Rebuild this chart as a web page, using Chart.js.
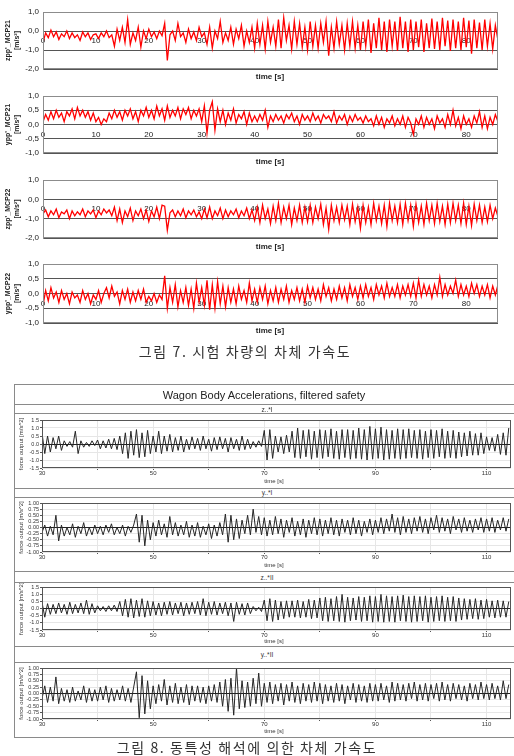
<!DOCTYPE html>
<html><head><meta charset="utf-8">
<script src="https://cdn.jsdelivr.net/npm/chart.js@4/dist/chart.umd.min.js"></script>
<style>
body{margin:0;background:#fff;width:514px;height:756px;position:relative;overflow:hidden;font-family:Arial,"Liberation Sans",sans-serif}
canvas{position:absolute}
.t{position:absolute;white-space:nowrap;transform:translate(-50%,-50%);color:#222}
.ln{position:absolute;background:#8a8a8a}
.cap{font-family:"Noto Sans CJK KR",sans-serif;font-size:14px;color:#333;letter-spacing:1.6px}
</style></head><body>
<script>
// ---------- data ----------
const topTimeStep = 0.5;   // s, top 4 panels start at 0 s
const botTimeStep = 0.5;   // s, bottom 4 panels start at 30 s
const botTimeStart = 30;

const zppMCP21 = [-0.6,-0.1,-0.35,0.05,-0.3,-0.05,-0.45,-0.15,-0.3,0.0,-0.4,-0.1,-0.35,-0.2,-0.5,-0.05,-0.3,-0.1,-0.45,-0.2,-0.15,-0.4,-0.1,-0.3,0.0,-0.35,-0.2,
 -0.8,0.1,-0.5,0.2,-0.6,0.6,-0.7,-0.1,-0.5,0.2,-0.85,0.0,-0.4,0.1,
 -0.3,-0.05,-0.4,0.0,-0.25,0.4,-1.55,
 -0.2,0.0,-0.5,0.4,-0.3,-0.1,-0.6,0.1,-0.4,-0.05,-0.5,0.2,-0.3,
 -0.1,-0.7,0.2,-0.9,0.0,-0.4,0.5,-0.6,-0.1,-0.5,0.2,-0.7,0.1,-0.4,0.3,-0.8,0.0,-0.6,0.2,
 -0.9,0.4,-0.7,0.3,-0.95,0.5,-0.6,0.2,-0.8,0.6,-0.9,0.7,-0.5,0.3,-0.95,0.5,-0.7,0.4,-0.85,0.2,
 -1.0,0.5,-0.8,0.3,-0.9,0.4,-0.6,0.5,-1.3,0.2,-0.9,0.5,-0.7,0.3,-1.0,0.4,-0.8,0.5,-0.9,0.3,
 -1.0,0.5,-0.8,0.6,-1.15,0.4,-0.9,0.7,-1.0,0.5,-1.1,0.6,-0.8,0.5,-1.05,0.75,-0.9,0.5,-1.1,0.6,
 -1.0,0.5,-0.85,0.6,-1.1,0.4,-0.9,0.65,-0.95,0.5,-1.0,0.7,-0.8,0.55,-1.05,0.6,-0.9,0.5,-1.0,0.7,
 -0.85,0.55,-1.2,0.6,-0.9,0.45,-1.0,0.6,-0.8,0.4,-0.95,0.3,-0.5];

const yppMCP21 = [0.1,0.35,0.15,0.45,0.2,0.5,0.25,0.4,0.1,0.45,0.3,0.55,0.2,0.6,0.3,0.5,0.25,0.45,0.15,0.4,
 0.1,0.25,0.0,0.2,
 0.1,0.4,0.2,0.5,0.25,0.45,0.15,0.5,0.3,0.55,0.2,0.45,0.1,0.5,0.3,0.6,0.25,0.5,0.2,0.65,0.3,0.55,0.15,0.65,0.25,0.5,0.3,0.6,0.2,0.55,0.35,0.6,0.2,0.5,0.3,0.55,
 0.1,0.65,-0.3,0.5,0.8,-0.2,
 0.55,0.1,0.5,0.0,0.4,0.15,0.55,0.05,0.35,0.2,0.45,0.0,0.4,0.1,
 0.3,0.1,0.35,0.15,0.5,-0.1,0.3,0.1,0.35,0.15,0.3,0.05,0.35,0.2,0.4,0.1,0.3,0.0,0.35,0.15,0.3,0.1,0.4,0.15,0.3,0.05,0.35,0.2,0.3,0.1,0.45,0.05,0.3,0.15,0.35,0.0,0.3,0.1,0.35,0.15,
 0.25,0.05,0.3,0.1,0.2,-0.05,0.3,0.0,0.25,-0.1,0.2,0.05,0.3,-0.05,0.2,0.0,0.3,-0.1,0.25,0.05,
 -0.35,0.2,0.0,0.3,-0.1,0.25,0.0,0.2,-0.15,0.3,0.05,0.2,-0.1,0.35,0.0,0.5,-0.05,0.25,-0.15,0.3,0.0,0.2,-0.1,0.3,0.05,0.45,-0.1,0.3,-0.15,0.25,0.0,0.35,0.1];

const zppMCP22 = [-0.75,-0.55,-0.9,-0.6,-0.8,-0.5,-0.95,-0.65,-0.75,-0.55,-1.0,-0.6,-0.85,-0.65,-0.8,-0.5,-0.9,-0.6,-0.75,-0.55,-0.95,-0.6,-0.8,-0.5,-0.7,-0.55,-0.85,
 -0.4,-1.1,-0.5,-1.2,-0.6,-0.9,-0.45,-1.1,-0.6,-0.85,-0.5,-1.0,-0.55,-1.15,-0.6,-0.9,-0.4,-1.0,-0.3,
 -0.35,-1.6,
 -0.7,-0.55,-0.9,-0.6,-0.85,-0.5,-0.95,-0.6,-0.8,-0.55,-0.9,-0.65,-1.0,
 -0.5,-0.95,-0.4,-1.0,-0.6,-0.85,-0.45,-1.0,-0.55,-0.9,-0.6,-0.8,-0.5,-0.95,-0.6,-0.85,-0.45,-1.0,-0.55,
 -1.1,-0.4,-1.2,-0.3,-1.0,-0.5,-1.25,-0.35,-1.1,-0.2,-1.2,-0.4,-1.0,-0.3,-1.3,-0.45,-1.1,-0.3,-1.2,-0.4,
 -1.15,-0.3,-1.2,-0.4,-1.0,-0.25,-1.3,-0.45,-1.55,-0.3,-1.1,-0.4,-1.2,-0.3,-1.05,-0.35,-1.3,-0.25,-1.15,-0.4,
 -1.5,-0.3,-1.2,-0.4,-1.3,-0.2,-1.1,-0.35,-1.25,-0.3,-1.4,-0.2,-1.1,-0.35,-1.2,-0.25,-1.3,-0.2,-1.1,-0.3,
 -1.4,-0.25,-1.2,-0.35,-1.3,-0.2,-1.1,-0.3,-1.25,-0.2,-1.15,-0.35,-1.3,-0.25,-1.2,-0.2,-1.1,-0.3,-1.25,-0.2,-1.3,-0.35,-1.35,-0.25,-1.1,-0.3,-1.2,-0.4,-1.15,-0.3,-1.0,-0.45,-0.9];

const yppMCP22 = [-0.4,0.1,-0.25,0.2,-0.15,0.05,-0.3,0.1,-0.2,0.0,-0.35,0.05,-0.15,-0.05,-0.3,0.1,-0.2,0.0,-0.35,-0.05,-0.2,0.1,-0.3,0.0,0.2,-0.15,0.25,-0.1,0.05,-0.35,0.1,-0.2,0.15,-0.3,0.05,-0.25,0.1,-0.2,0.15,-0.3,
 -0.1,-0.25,0.0,-0.3,-0.05,-0.2,
 0.6,-0.5,
 0.2,-0.3,0.3,-0.45,0.1,-0.3,0.2,-0.4,0.15,-0.5,0.35,-0.3,0.2,-0.4,0.45,-0.55,0.3,-0.5,0.4,-0.35,0.25,-0.45,
 0.2,-0.3,0.15,-0.35,0.25,-0.2,0.1,-0.3,0.35,-0.25,0.15,-0.3,0.2,-0.2,0.25,-0.35,0.1,-0.25,0.2,-0.3,0.15,-0.2,0.25,-0.3,0.1,-0.2,0.2,-0.25,0.15,-0.3,0.25,-0.15,0.2,-0.2,0.15,-0.25,0.3,-0.1,0.2,-0.25,0.15,-0.2,0.25,-0.15,0.2,-0.25,0.3,-0.1,0.2,-0.2,
 0.25,-0.15,0.3,-0.1,0.2,-0.2,0.3,-0.05,0.25,-0.15,0.35,-0.1,0.2,-0.1,0.3,-0.15,0.25,-0.05,0.3,-0.1,0.35,-0.15,0.45,-0.1,0.3,-0.05,0.25,-0.15,0.3,-0.05,0.55,-0.1,0.3,-0.05,0.25,0.0,0.45,-0.1,0.3,-0.05,0.25,-0.1,0.35,0.0,0.3,-0.1,0.25,-0.05,0.3,-0.15,0.25,-0.05,0.3];

const zI = [0.7,-0.6,0.5,-0.5,0.4,-0.3,0.5,-0.4,
 0.2,-0.15,0.15,-0.2,0.8,-0.6,0.2,-0.2,0.1,-0.15,0.2,-0.1,
 0.25,-0.3,0.2,-0.25,0.3,-0.3,0.35,-0.35,
 0.5,-0.6,0.7,-0.9,0.8,-0.7,0.9,-0.85,0.7,-0.8,0.85,-0.6,
 0.5,-0.5,0.8,-0.6,0.5,-0.45,0.6,-0.5,0.4,-0.4,0.5,-0.5,
 0.3,-0.35,0.45,-0.3,0.35,-0.4,0.5,-0.3,0.3,-0.45,0.4,-0.35,0.45,-0.3,0.35,-0.5,0.4,-0.3,0.3,-0.4,0.5,-0.35,0.3,-0.3,
 0.15,-0.2,0.2,-0.15,
 0.85,-1.0,0.9,-0.9,
 0.5,-0.5,0.45,-0.6,0.55,-0.5,
 0.8,-0.85,1.0,-0.9,0.85,-0.8,0.9,-0.95,0.8,-0.85,0.9,-0.9,0.85,-0.8,0.95,-0.9,0.8,-0.95,0.9,-0.85,
 0.9,-0.95,0.85,-0.9,1.0,-0.95,0.9,-1.0,1.1,-0.95,0.95,-0.9,1.05,-1.0,0.9,-0.95,0.85,-0.9,0.95,-0.95,
 0.9,-0.9,0.95,-0.85,0.85,-0.9,0.9,-0.95,0.8,-0.85,0.9,-0.9,0.85,-0.8,0.95,-0.9,0.8,-0.85,0.85,-0.9,
 0.75,-0.8,0.7,-0.75,0.8,-0.7,0.65,-0.7,0.7,-0.6,0.45,-0.4,0.4,-0.45,0.6,-0.65,0.7,-0.7,1.0];

const yI = [-0.2,0.1,-0.35,0.05,-0.3,0.5,-0.55,0.1,-0.35,0.0,-0.3,0.15,-0.4,0.05,-0.25,0.2,-0.35,0.0,-0.3,0.1,
 -0.25,0.05,-0.3,0.1,-0.2,0.15,-0.3,0.0,-0.25,0.1,-0.35,0.05,-0.2,0.1,
 0.55,-0.6,0.5,-0.75,0.3,-0.5,
 0.2,-0.35,0.3,-0.3,0.15,-0.4,0.45,-0.3,0.2,-0.35,0.1,-0.3,0.25,-0.4,
 0.1,-0.35,0.2,-0.4,0.05,-0.3,0.15,-0.45,0.1,-0.35,0.2,-0.3,
 0.55,-0.6,0.5,-0.5,0.35,-0.45,
 0.3,-0.25,0.5,-0.3,0.75,-0.2,0.45,-0.3,
 0.4,-0.35,0.3,-0.3,0.45,-0.25,0.35,-0.4,0.3,-0.2,0.4,-0.35,0.25,-0.3,0.35,-0.4,0.3,-0.25,0.4,-0.3,0.35,-0.35,0.3,-0.25,0.4,-0.3,0.3,-0.35,0.35,-0.2,0.3,-0.3,0.4,-0.25,0.3,-0.35,0.25,-0.2,0.35,-0.3,
 0.3,-0.2,0.4,-0.25,0.35,-0.15,0.55,-0.2,0.4,-0.3,0.45,-0.2,0.35,-0.25,0.4,-0.15,0.45,-0.2,0.35,-0.25,0.4,-0.1,0.5,-0.2,0.4,-0.15,0.35,-0.25,0.45,-0.1,0.35,-0.2,0.4,-0.15,0.3,-0.2,0.35,-0.1,0.4,-0.2,0.35,-0.15,0.4,-0.2,0.3,-0.1,0.4,-0.15,0.35];

const zII = [0.45,-0.6,0.35,-0.4,0.3,-0.35,0.4,-0.3,0.3,-0.4,0.45,-0.35,0.3,-0.3,0.4,-0.35,0.6,-0.4,0.35,-0.3,
 0.2,-0.15,0.15,-0.2,0.2,-0.15,0.25,-0.2,
 0.5,-0.5,0.65,-0.6,0.7,-0.65,0.6,-0.55,0.7,-0.6,0.55,-0.5,
 0.5,-0.45,0.4,-0.5,0.45,-0.4,0.5,-0.45,0.4,-0.35,0.45,-0.5,0.4,-0.4,0.45,-0.35,
 0.5,-0.45,0.7,-0.5,0.45,-0.4,0.5,-0.45,
 0.4,-0.35,0.45,-0.5,0.4,-0.9,0.45,-0.4,0.35,-0.45,0.4,-0.35,
 0.15,-0.15,0.1,-0.2,
 0.6,-0.85,0.7,-0.9,0.6,-0.8,0.5,-0.7,0.55,-0.6,
 0.55,-0.6,0.6,-0.65,0.5,-0.6,0.65,-0.7,0.6,-0.65,
 0.75,-0.85,0.8,-0.9,0.7,-0.85,0.85,-0.9,1.0,-0.95,0.8,-0.85,0.75,-0.8,0.85,-0.9,0.8,-0.85,0.9,-0.95,
 0.85,-0.9,1.0,-0.95,0.9,-0.9,0.85,-0.95,0.9,-0.85,0.95,-0.9,0.85,-0.95,0.9,-0.9,0.85,-0.85,0.9,-0.95,0.8,-0.9,0.85,-0.85,0.9,-0.9,0.8,-0.85,0.85,-0.9,
 0.75,-0.8,0.7,-0.75,0.65,-0.7,0.7,-0.75,0.6,-0.7,0.65,-0.6,0.55,-0.65,0.6,-0.6,0.55,-0.6,0.5];

const yII = [-0.2,0.3,-0.35,0.25,-0.3,0.65,-0.4,0.2,-0.3,0.15,-0.35,0.25,-0.3,0.1,-0.25,0.3,-0.35,0.2,-0.3,0.15,
 -0.3,0.25,-0.25,0.3,-0.35,0.2,-0.3,0.15,-0.25,0.3,-0.3,0.2,-0.35,0.25,
 0.85,-0.95,0.7,-0.8,0.5,-0.6,
 0.3,-0.4,0.35,-0.3,0.55,-0.45,0.3,-0.35,0.4,-0.4,0.25,-0.35,0.35,-0.45,0.3,-0.3,
 0.3,-0.35,0.25,-0.4,0.3,-0.3,0.35,-0.35,
 0.45,-0.5,0.55,-0.7,0.6,-0.85,1.0,-0.6,
 0.5,-0.55,0.45,-0.5,0.6,-0.4,0.8,-0.5,
 0.4,-0.35,0.45,-0.4,0.35,-0.3,0.4,-0.45,0.35,-0.3,0.45,-0.35,0.3,-0.4,0.4,-0.3,0.35,-0.35,0.45,-0.3,0.4,-0.4,0.35,-0.3,0.3,-0.35,0.4,-0.3,0.35,-0.4,0.3,-0.25,0.4,-0.35,0.35,-0.3,0.3,-0.35,0.4,-0.3,
 0.35,-0.3,0.4,-0.25,0.3,-0.35,0.45,-0.3,0.4,-0.25,0.35,-0.3,0.4,-0.2,0.45,-0.3,0.35,-0.25,0.4,-0.3,0.35,-0.2,0.4,-0.3,0.45,-0.25,0.35,-0.3,0.4,-0.2,0.35,-0.25,0.3,-0.3,0.4,-0.2,0.35,-0.25,0.45,-0.2,0.35,-0.25,0.4,-0.2,0.3,-0.25,0.5,-0.2,0.35];

const topTicksX = [0,10,20,30,40,50,60,70,80];
const botLabelTicksX = [30,50,70,90,110];

// ---------- helpers ----------
const frame = {id:'frame', afterDraw(c,a,o){
  const {ctx, chartArea:{left,top,right,bottom}} = c;
  ctx.save(); ctx.strokeStyle = o.color || '#888'; ctx.lineWidth = 1;
  ctx.strokeRect(Math.round(left)+0.5, Math.round(top)+0.5, Math.round(right-left)-1, Math.round(bottom-top)-1);
  ctx.restore();
}};

function addCanvas(left, top, w, h){
  const c = document.createElement('canvas');
  c.width = w; c.height = h; c.style.left = left+'px'; c.style.top = top+'px';
  c.style.width = w+'px'; c.style.height = h+'px';
  document.body.appendChild(c); return c;
}
function text(str, x, y, css, cls){
  const d = document.createElement('div'); d.className = 't' + (cls?' '+cls:'');
  d.textContent = str; d.style.left = x+'px'; d.style.top = y+'px';
  if (css) d.style.cssText += css; document.body.appendChild(d); return d;
}
function line(x, y, w, h){
  const d = document.createElement('div'); d.className='ln';
  d.style.left=x+'px'; d.style.top=y+'px'; d.style.width=w+'px'; d.style.height=h+'px';
  document.body.appendChild(d);
}

function topChart(o){
  const cv = addCanvas(0, o.top, 514, o.height);
  const pts = o.values.map((v,i)=>({x: i*topTimeStep, y: v}));
  new Chart(cv, {
    type:'line',
    data:{datasets:[{data:pts, borderColor:'#ff0000', borderWidth:1.3, pointRadius:0, tension:0}]},
    options:{
      responsive:false, animation:false, events:[],
      layout:{padding:{left:0, right:16, top:o.plotTop-o.top, bottom:o.top+o.height-o.plotBottom}},
      plugins:{legend:{display:false}, tooltip:{enabled:false}, frame:{color:'#8c8c8c'}},
      scales:{
        x:{type:'linear', min:0, max:86, position:{y:0},
           afterBuildTicks: s => { s.ticks = topTicksX.map(v=>({value:v})); },
           ticks:{font:{size:8, family:'Arial'}, color:'#222', padding:5, maxRotation:0, includeBounds:false, autoSkip:false},
           grid:{display:false, drawTicks:false}, border:{display:false}},
        y:{min:o.yMin, max:o.yMax,
           afterFit: s => { s.width = 43; },
           ticks:{stepSize:o.yStep, autoSkip:false, font:{size:8, family:'Arial'}, color:'#222', padding:4,
                  callback: v => v.toFixed(1).replace('.', ',')},
           grid:{color:'#555', drawTicks:false, lineWidth:1},
           border:{display:true, color:'#8c8c8c'},
           title:{display:true, text:o.title, font:{size:7, weight:'bold', family:'Arial', lineHeight:1.25}, color:'#222', padding:{top:4,bottom:0}}}
      }
    },
    plugins:[frame]
  });
  text('time [s]', 270, o.timeY, 'font-weight:bold;font-size:8px;');
}

function botChart(o){
  const top = o.top, h = o.bottomEdge - o.top;
  const cv = addCanvas(15, top, 498, h);
  const pts = o.values.map((v,i)=>({x: botTimeStart + i*botTimeStep, y: v}));
  new Chart(cv, {
    type:'line',
    data:{datasets:[{data:pts, borderColor:'#262626', borderWidth:1, pointRadius:0, tension:0}]},
    options:{
      responsive:false, animation:false, events:[],
      layout:{padding:{left:0, right:2, top:o.plotTop-top, bottom:0}},
      plugins:{legend:{display:false}, tooltip:{enabled:false}, frame:{color:'#555'}},
      scales:{
        x:{type:'linear', min:30, max:114.4,
           afterFit: s => { s.height = o.bottomEdge - o.plotBottom; },
           ticks:{stepSize:10, includeBounds:false, autoSkip:false, font:{size:6, family:'Arial'}, color:'#333', padding:0, maxRotation:0,
                  callback: v => botLabelTicksX.includes(v) ? String(v) : ''},
           grid:{color:'#e6e6e6', tickLength:2, tickColor:'#555'}, border:{display:false}},
        y:{min:o.yMin, max:o.yMax,
           afterFit: s => { s.width = 27; },
           ticks:{stepSize:o.yStep, autoSkip:false, font:{size:5.5, family:'Arial'}, color:'#333', padding:1,
                  callback: v => v.toFixed(o.dec)},
           grid:{color: c => (c.tick && c.tick.value === 0) ? '#222' : '#e6e6e6', tickLength:2, tickColor:'#555'},
           border:{display:false},
           title:{display:true, text:'force output [m/s^2]', font:{size:6, family:'Arial'}, color:'#333', padding:{top:3,bottom:0}}}
      }
    },
    plugins:[frame]
  });
  text('time [s]', 274, o.timeY, 'font-size:6px;color:#333;');
}

// ---------- top figure ----------
topChart({top:0, height:85, plotTop:12, plotBottom:69, yMin:-2, yMax:1, yStep:1, title:["zpp'_MCP21","[m/s²]"], values:zppMCP21, timeY:76});
topChart({top:85, height:85, plotTop:96, plotBottom:153, yMin:-1, yMax:1, yStep:0.5, title:["ypp'_MCP21","[m/s²]"], values:yppMCP21, timeY:161});
topChart({top:170, height:85, plotTop:180, plotBottom:238, yMin:-2, yMax:1, yStep:1, title:["zpp'_MCP22","[m/s²]"], values:zppMCP22, timeY:246});
topChart({top:255, height:85, plotTop:264, plotBottom:323, yMin:-1, yMax:1, yStep:0.5, title:["ypp'_MCP22","[m/s²]"], values:yppMCP22, timeY:330});
text('그림 7. 시험 차량의 차체 가속도', 245, 351, '', 'cap');

// ---------- bottom figure ----------
line(14, 384, 500, 1);
line(14, 384, 1, 354);
line(14, 404, 500, 1);
line(14, 413, 500, 1);
line(14, 488, 500, 1);
line(14, 497, 500, 1);
line(14, 571, 500, 1);
line(14, 582, 500, 1);
line(14, 646, 500, 1);
line(14, 662, 500, 1);
line(14, 737, 500, 1);
text('Wagon Body Accelerations, filtered safety', 264, 395, 'font-size:11px;color:#222;');
text('z..*I', 267, 409, 'font-size:6.5px;color:#333;');
text('y..*I', 267, 492, 'font-size:6.5px;color:#333;');
text('z..*II', 267, 577, 'font-size:6.5px;color:#333;');
text('y..*II', 267, 654, 'font-size:6.5px;color:#333;');

botChart({top:414, bottomEdge:488, plotTop:420, plotBottom:468, yMin:-1.5, yMax:1.5, yStep:0.5, dec:1, values:zI, timeY:481});
botChart({top:498, bottomEdge:571, plotTop:503, plotBottom:552, yMin:-1, yMax:1, yStep:0.25, dec:2, values:yI, timeY:565});
botChart({top:583, bottomEdge:646, plotTop:587, plotBottom:630, yMin:-1.5, yMax:1.5, yStep:0.5, dec:1, values:zII, timeY:641});
botChart({top:663, bottomEdge:737, plotTop:668, plotBottom:719, yMin:-1, yMax:1, yStep:0.25, dec:2, values:yII, timeY:731});

text('그림 8. 동특성 해석에 의한 차체 가속도', 247, 747, '', 'cap');
</script>
</body></html>
